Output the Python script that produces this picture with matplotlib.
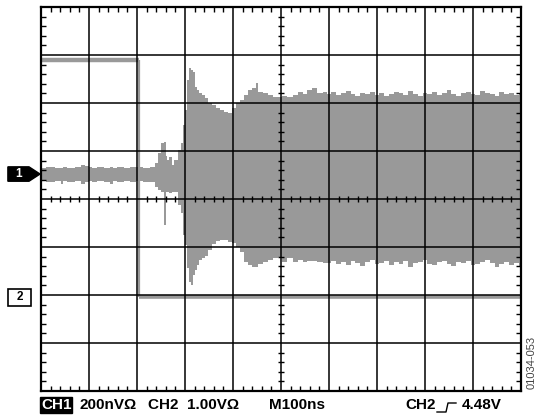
import matplotlib
matplotlib.use("Agg")
import matplotlib.pyplot as plt
import numpy as np
from matplotlib.lines import Line2D
from matplotlib.patches import Polygon, Rectangle
from matplotlib.ticker import MultipleLocator
from matplotlib.transforms import blended_transform_factory

# screen is 10 x 8 divisions, values below are in divisions
ch1_offset = 0.52
ch2_t = [0.0, 2.04, 2.04, 10.0]
ch2_v = [2.90, 2.90, -2.05, -2.05]

# ch1 envelope (top / bottom of the burst)
ch1_t = [0.00, 0.20, 0.40, 0.44, 0.48, 0.60, 0.81, 0.85, 0.98, 1.02, 1.10, 1.23,
         1.40, 1.47, 1.51, 1.65, 1.80, 1.90, 2.06, 2.20, 2.33, 2.40, 2.48, 2.54,
         2.58, 2.61, 2.63, 2.69, 2.75, 2.81, 2.88, 2.94, 2.98, 3.02, 3.06, 3.10,
         3.15, 3.19, 3.23, 3.27, 3.31, 3.38, 3.44, 3.52, 3.60, 3.69, 3.77, 3.85,
         3.94, 4.02, 4.10, 4.19, 4.27, 4.35, 4.44, 4.50, 4.56, 4.67, 4.77, 4.88,
         4.98, 5.08, 5.19, 5.29, 5.40, 5.50, 5.60, 5.71, 5.81, 5.92]
ch1_top = [0.65, 0.67, 0.65, 0.65, 0.67, 0.65, 0.67, 0.71, 0.69, 0.67, 0.65, 0.67,
           0.65, 0.67, 0.65, 0.67, 0.65, 0.67, 0.67, 0.65, 0.67, 0.75, 0.96, 1.17,
           1.19, 0.90, 0.81, 0.88, 0.71, 0.81, 1.02, 1.17, 1.54, 1.85, 2.48, 2.73,
           2.69, 2.65, 2.33, 2.27, 2.21, 2.17, 2.10, 2.00, 1.96, 1.90, 1.85, 1.81,
           1.79, 1.90, 2.00, 2.06, 2.17, 2.27, 2.31, 2.42, 2.23, 2.21, 2.17, 2.13,
           2.13, 2.15, 2.13, 2.17, 2.23, 2.19, 2.27, 2.31, 2.21, 2.23]
ch1_bot = [0.38, 0.35, 0.38, 0.31, 0.38, 0.35, 0.38, 0.31, 0.35, 0.38, 0.35, 0.38,
           0.35, 0.31, 0.38, 0.35, 0.38, 0.35, 0.38, 0.35, 0.35, 0.25, 0.19, 0.15,
           -0.54, 0.15, 0.15, 0.13, 0.15, 0.15, -0.13, -0.29, -0.75, -0.96, -1.44, -1.73,
           -1.79, -1.58, -1.48, -1.38, -1.27, -1.23, -1.19, -1.06, -0.94, -0.88, -0.85, -0.85,
           -0.90, -0.92, -1.00, -1.10, -1.31, -1.38, -1.42, -1.42, -1.35, -1.31, -1.27, -1.23,
           -1.21, -1.31, -1.23, -1.31, -1.27, -1.31, -1.29, -1.29, -1.31, -1.33]

# steady part of the burst, 6.0 .. 10.0 div
steady_t = [6.0, 6.1, 6.2, 6.3, 6.4, 6.5, 6.6, 6.7, 6.8, 6.9, 7.0, 7.1, 7.2, 7.3,
            7.4, 7.5, 7.6, 7.7, 7.8, 7.9, 8.0, 8.1, 8.2, 8.3, 8.4, 8.5, 8.6, 8.7,
            8.8, 8.9, 9.0, 9.1, 9.2, 9.3, 9.4, 9.5, 9.6, 9.7, 9.8, 9.9, 10.0]
steady_top = [2.19, 2.23, 2.17, 2.21, 2.25, 2.19, 2.15, 2.21, 2.19, 2.23, 2.17, 2.21,
              2.15, 2.19, 2.23, 2.21, 2.17, 2.25, 2.19, 2.15, 2.21, 2.19, 2.23, 2.17,
              2.21, 2.27, 2.19, 2.15, 2.21, 2.23, 2.19, 2.17, 2.25, 2.21, 2.19, 2.15,
              2.23, 2.19, 2.21, 2.17, 2.19]
steady_bot = [-1.33, -1.29, -1.35, -1.31, -1.38, -1.29, -1.33, -1.40, -1.31, -1.27,
              -1.35, -1.33, -1.29, -1.38, -1.31, -1.35, -1.29, -1.42, -1.33, -1.31,
              -1.27, -1.35, -1.38, -1.31, -1.29, -1.35, -1.40, -1.31, -1.33, -1.29,
              -1.38, -1.35, -1.31, -1.27, -1.33, -1.42, -1.35, -1.31, -1.38, -1.33, -1.40]

bottom_labels = ['200nVΩ', 'CH2  1.00VΩ', 'M100ns']
trigger_label = ['CH2', '4.48V']
fig_id = '01034-053'

trace = '#999999'
plt.rcParams['font.family'] = ['Liberation Sans', 'DejaVu Sans']

fig = plt.figure(figsize=(5.44, 4.18), dpi=100)
ax = fig.add_axes([41 / 544, 27 / 418, 480 / 544, 384 / 418])
ax.set_xlim(0, 10)
ax.set_ylim(-4, 4)

t = np.array(ch1_t + steady_t)
top = np.array(ch1_top + steady_top)
bot = np.array(ch1_bot + steady_bot)
ax.fill_between(t, bot, top, step='mid', color=trace, lw=0, zorder=1)
ax.plot(ch2_t[:2], ch2_v[:2], color=trace, lw=3.2, zorder=1, solid_capstyle='butt')
ax.plot(ch2_t[1:3], ch2_v[1:3], color=trace, lw=1.6, zorder=1, solid_capstyle='butt')
ax.plot(ch2_t[2:], ch2_v[2:], color=trace, lw=2.6, zorder=1, solid_capstyle='butt')

# graticule
for x in range(1, 10):
    ax.axvline(x, color='black', lw=1.1, zorder=3)
for y in range(-3, 4):
    ax.axhline(y, color='black', lw=1.1, zorder=3)
minor = [v / 5 for v in range(1, 50) if v % 5]
ax.plot(minor, [0] * len(minor), ls='none', marker='|', ms=5, mew=1, color='black', zorder=3)
minor_y = [v / 5 - 4 for v in range(1, 40) if v % 5]
ax.plot([5] * len(minor_y), minor_y, ls='none', marker='_', ms=5, mew=1, color='black', zorder=3)

ax.xaxis.set_major_locator(MultipleLocator(1))
ax.yaxis.set_major_locator(MultipleLocator(1))
ax.xaxis.set_minor_locator(MultipleLocator(0.2))
ax.yaxis.set_minor_locator(MultipleLocator(0.2))
ax.tick_params(which='both', direction='in', top=True, right=True,
               labelbottom=False, labelleft=False)
ax.tick_params(which='major', length=0)
ax.tick_params(which='minor', length=3.5, width=1, color='black')
for s in ax.spines.values():
    s.set_linewidth(1.6)

# channel markers
tr = blended_transform_factory(ax.transAxes, ax.transData)
ax.add_patch(Polygon([[-0.069, ch1_offset - 0.15], [-0.025, ch1_offset - 0.15], [-0.002, ch1_offset],
                      [-0.025, ch1_offset + 0.15], [-0.069, ch1_offset + 0.15]],
                     closed=True, fc='black', ec='black', transform=tr, clip_on=False))
ax.text(-0.047, ch1_offset, '1', color='white', fontsize=8.5, fontweight='bold',
        ha='center', va='center', transform=tr)
ax.add_patch(Rectangle((-0.069, ch2_v[-1] - 0.17), 0.048, 0.34, fc='white', ec='black',
                       lw=1.2, transform=tr, clip_on=False))
ax.text(-0.045, ch2_v[-1], '2', color='black', fontsize=8.5, fontweight='bold',
        ha='center', va='center', transform=tr)

# bottom status line
ty = 1 - 405 / 418
fs = 11
fig.text(41 / 544, ty, 'CH1', color='white', fontsize=fs, fontweight='bold', va='center',
         bbox=dict(boxstyle='square,pad=0.06', fc='black', ec='black'))
fig.text(79 / 544, ty, bottom_labels[0], fontsize=fs, fontweight='bold', va='center')
fig.text(148 / 544, ty, bottom_labels[1], fontsize=fs, fontweight='bold', va='center')
fig.text(269 / 544, ty, bottom_labels[2], fontsize=fs, fontweight='bold', va='center')
fig.text(405 / 544, ty, trigger_label[0], fontsize=fs, fontweight='bold', va='center')
fig.text(462 / 544, ty, trigger_label[1], fontsize=fs, fontweight='bold', va='center')
sx = np.array([437, 446, 448, 456]) / 544
sy = 1 - np.array([412, 412, 403, 403]) / 418
fig.add_artist(Line2D(sx, sy, color='black', lw=1.0))

fig.text(532 / 544, 1 - 362 / 418, fig_id, rotation=90, fontsize=8, color='#444444',
         ha='center', va='center')

fig.savefig('out.png', dpi=100)
